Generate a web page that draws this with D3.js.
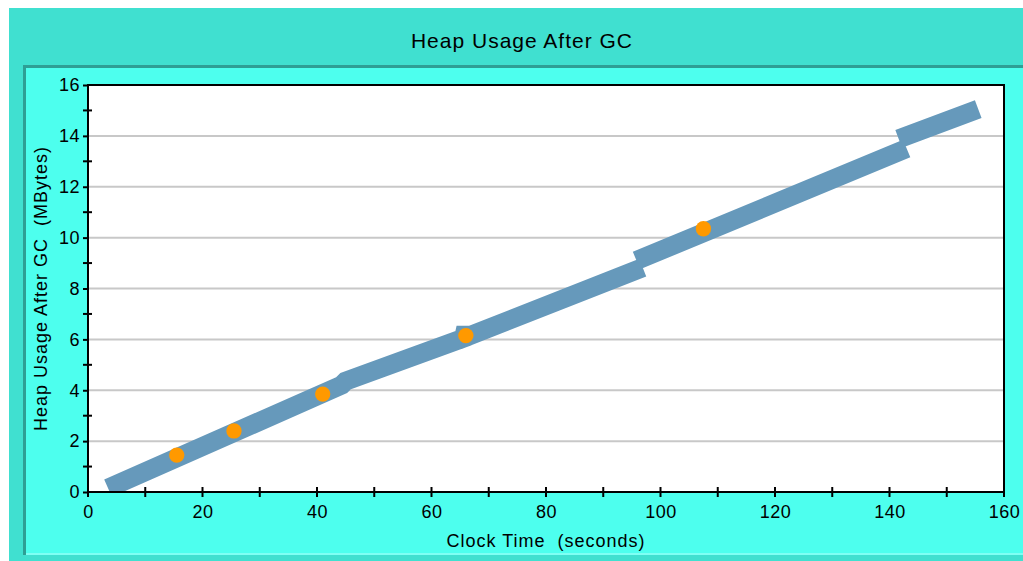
<!DOCTYPE html>
<html><head><meta charset="utf-8">
<script src="https://cdn.jsdelivr.net/npm/d3@7"></script>
<style>body{margin:0;background:#fff;}svg{display:block;}text{font-family:"Liberation Sans",Arial,sans-serif;fill:#000;white-space:pre;}</style>
</head><body>
<svg id="c" width="1023" height="561"></svg>
<script>
const title = "Heap Usage After GC";
const xLabel = "Clock Time  (seconds)";
const yLabel = "Heap Usage After GC  (MBytes)";
const xTicks = [0,20,40,60,80,100,120,140,160];
const yTicks = [0,2,4,6,8,10,12,14,16];
// heap usage line (NaN breaks segments)
const heapTime = [3.5, 44.3, 45.0, 65.6, 66.0, 66.4, 96.9, NaN, 95.8, 143.0, NaN, 141.6, 155.5];
const heapMB   = [0.15, 4.2, 4.36, 6.05, 6.45, 6.12, 8.82, NaN, 9.1, 13.5, NaN, 13.88, 15.05];
// full GC markers
const fullGcTime = [15.5, 25.5, 41.0, 66.0, 107.5];
const fullGcMB   = [1.45, 2.4, 3.85, 6.15, 10.35];

const svg = d3.select("#c");
svg.append("rect").attr("x",9).attr("y",8).attr("width",1014).attr("height",553).attr("fill","#40E0D0");
svg.append("rect").attr("x",23).attr("y",65).attr("width",1000).attr("height",490).attr("fill","#2E9F95");
svg.append("rect").attr("x",26).attr("y",68).attr("width",997).attr("height",487).attr("fill","#7FFFF4");
svg.append("rect").attr("x",26).attr("y",68).attr("width",997).attr("height",485).attr("fill","#4DFFEE");

svg.append("text").attr("x",522).attr("y",48).attr("text-anchor","middle").attr("font-size",21).attr("letter-spacing",1).text(title);

const L=88,R=1004,T=85,B=492;
const x = d3.scaleLinear().domain([0,160]).range([L,R]);
const y = d3.scaleLinear().domain([0,16]).range([B,T]);

svg.append("rect").attr("x",L).attr("y",T).attr("width",R-L).attr("height",B-T).attr("fill","#fff");
svg.append("g").selectAll("line").data(yTicks.filter(d=>d>0&&d<16)).join("line")
  .attr("x1",L).attr("x2",R).attr("y1",d=>y(d)).attr("y2",d=>y(d))
  .attr("stroke","#C8C8C8").attr("stroke-width",2);

svg.append("clipPath").attr("id","clip").append("rect").attr("x",L).attr("y",T).attr("width",R-L).attr("height",B-T);
const pts = heapTime.map((t,i)=>[t,heapMB[i]]);
const line = d3.line().defined(d=>!isNaN(d[0])).x(d=>x(d[0])).y(d=>y(d[1]));
svg.append("path").attr("clip-path","url(#clip)").attr("d",line(pts))
  .attr("fill","none").attr("stroke","#6699BB").attr("stroke-width",19).attr("stroke-linejoin","miter").attr("stroke-linecap","butt");

const sym = d3.symbol().type(d3.symbolCircle).size(185);
svg.append("g").selectAll("path").data(fullGcTime.map((t,i)=>[t,fullGcMB[i]])).join("path")
  .attr("d",sym).attr("transform",d=>`translate(${x(d[0])},${y(d[1])})`).attr("fill","#FF9900");

svg.append("rect").attr("x",L).attr("y",T).attr("width",R-L).attr("height",B-T).attr("fill","none").attr("stroke","#000").attr("stroke-width",2);

const xAxis = d3.axisBottom(x).tickValues(xTicks).tickSize(0).tickPadding(13).tickFormat(d3.format("d"));
const gx = svg.append("g").attr("transform",`translate(0,${B})`).call(xAxis);
gx.select(".domain").remove();
gx.selectAll("text").attr("font-size",18).attr("letter-spacing",0.5).attr("font-family","Liberation Sans, Arial, sans-serif");
svg.append("g").selectAll("line").data(d3.range(0,161,10)).join("line")
  .attr("x1",d=>x(d)).attr("x2",d=>x(d)).attr("y1",B-5).attr("y2",B+5).attr("stroke","#000").attr("stroke-width",2);

const yAxis = d3.axisLeft(y).tickValues(yTicks).tickSize(5).tickPadding(3).tickFormat(d3.format("d"));
const gy = svg.append("g").attr("transform",`translate(${L},0)`).call(yAxis);
gy.select(".domain").remove();
gy.selectAll("line").attr("stroke-width",2);
gy.selectAll("text").attr("font-size",18).attr("letter-spacing",0.5).attr("font-family","Liberation Sans, Arial, sans-serif");
svg.append("g").selectAll("line").data(d3.range(1,16,2)).join("line")
  .attr("x1",L-5).attr("x2",L+4).attr("y1",d=>y(d)).attr("y2",d=>y(d)).attr("stroke","#000").attr("stroke-width",2);

svg.append("text").attr("x",546).attr("y",547).attr("text-anchor","middle").attr("font-size",18).attr("letter-spacing",1).text(xLabel);
svg.append("text").attr("transform",`translate(47,${(T+B)/2}) rotate(-90)`).attr("text-anchor","middle").attr("font-size",18).attr("letter-spacing",1).text(yLabel);
</script>
</body></html>
